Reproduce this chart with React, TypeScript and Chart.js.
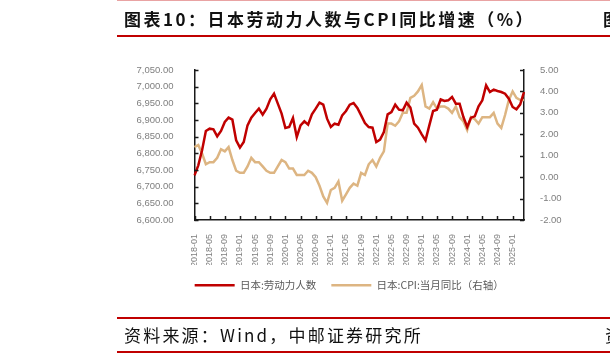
import React, { useEffect, useRef } from 'react';
import { Chart, registerables } from 'chart.js';

Chart.register(...registerables);

const months: string[] = [
  '2018-01','2018-02','2018-03','2018-04','2018-05','2018-06','2018-07','2018-08','2018-09','2018-10','2018-11','2018-12',
  '2019-01','2019-02','2019-03','2019-04','2019-05','2019-06','2019-07','2019-08','2019-09','2019-10','2019-11','2019-12',
  '2020-01','2020-02','2020-03','2020-04','2020-05','2020-06','2020-07','2020-08','2020-09','2020-10','2020-11','2020-12',
  '2021-01','2021-02','2021-03','2021-04','2021-05','2021-06','2021-07','2021-08','2021-09','2021-10','2021-11','2021-12',
  '2022-01','2022-02','2022-03','2022-04','2022-05','2022-06','2022-07','2022-08','2022-09','2022-10','2022-11','2022-12',
  '2023-01','2023-02','2023-03','2023-04','2023-05','2023-06','2023-07','2023-08','2023-09','2023-10','2023-11','2023-12',
  '2024-01','2024-02','2024-03','2024-04','2024-05','2024-06','2024-07','2024-08','2024-09','2024-10','2024-11','2024-12',
  '2025-01','2025-02','2025-03','2025-04',
];

// 日本:劳动力人数 (万人)
const laborForce: number[] = [
  6734, 6764, 6809, 6867, 6874, 6872, 6851, 6867, 6894, 6907, 6901, 6839,
  6817, 6834, 6884, 6907, 6921, 6934, 6916, 6934, 6962, 6979, 6949, 6919,
  6876, 6879, 6906, 6849, 6884, 6896, 6886, 6917, 6934, 6952, 6946, 6904,
  6879, 6889, 6886, 6914, 6927, 6946, 6951, 6936, 6914, 6891, 6879, 6877,
  6834, 6841, 6864, 6917, 6924, 6946, 6931, 6929, 6952, 6937, 6889, 6877,
  6857, 6839, 6884, 6927, 6931, 6962, 6957, 6959, 6969, 6949, 6949, 6909,
  6879, 6907, 6911, 6941, 6959, 7004, 6984, 6991, 6987, 6984, 6979, 6964,
  6939, 6932, 6947, 6984,
];

// 日本:CPI:当月同比 (%)
const cpiYoY: number[] = [
  1.4, 1.5, 1.1, 0.6, 0.7, 0.7, 0.9, 1.3, 1.2, 1.4, 0.8, 0.3,
  0.2, 0.2, 0.5, 0.9, 0.7, 0.7, 0.5, 0.3, 0.2, 0.2, 0.5, 0.8,
  0.7, 0.4, 0.4, 0.1, 0.1, 0.1, 0.3, 0.2, 0.0, -0.4, -0.9, -1.2,
  -0.6, -0.5, -0.2, -1.1, -0.8, -0.5, -0.3, -0.4, 0.2, 0.1, 0.6, 0.8,
  0.5, 0.9, 1.2, 2.5, 2.5, 2.4, 2.6, 3.0, 3.0, 3.7, 3.8, 4.0,
  4.3, 3.3, 3.2, 3.5, 3.2, 3.3, 3.3, 3.2, 3.0, 3.3, 2.8, 2.6,
  2.2, 2.8, 2.7, 2.5, 2.8, 2.8, 2.8, 3.0, 2.5, 2.3, 2.9, 3.6,
  4.0, 3.7, 3.6, 3.6,
];

const leftAxis = { min: 6600, max: 7050, step: 50 };
const rightAxis = { min: -2, max: 5, step: 1 };
const labelEvery = 4;

const seriesNames = ['日本:劳动力人数', '日本:CPI:当月同比（右轴）'];
const titleText = '图表10：日本劳动力人数与CPI同比增速（%）';
const sourceText = '资料来源：Wind，中邮证券研究所';

const RED = '#C00000';
const TAN = '#DDB582';
const TICK_COLOR = '#7F7F7F';

const inwardTicks = {
  id: 'inwardTicks',
  afterDraw(chart: any) {
    const ctx = chart.ctx;
    const { left, right, bottom } = chart.chartArea;
    ctx.save();
    ctx.strokeStyle = '#1a1a1a';
    ctx.lineWidth = 1.5;
    const y = chart.scales.y;
    y.ticks.forEach((_t: any, i: number) => {
      const py = Math.round(y.getPixelForTick(i)) + 0.5;
      ctx.beginPath();
      ctx.moveTo(left, py);
      ctx.lineTo(left + 4, py);
      ctx.stroke();
    });
    const y1 = chart.scales.y1;
    y1.ticks.forEach((_t: any, i: number) => {
      const py = Math.round(y1.getPixelForTick(i)) + 0.5;
      ctx.beginPath();
      ctx.moveTo(right - 4, py);
      ctx.lineTo(right, py);
      ctx.stroke();
    });
    const x = chart.scales.x;
    for (let i = 0; i < months.length; i += labelEvery) {
      const px = Math.round(x.getPixelForValue(i)) + 0.5;
      ctx.beginPath();
      ctx.moveTo(px, bottom);
      ctx.lineTo(px, bottom - 4);
      ctx.stroke();
    }
    ctx.restore();
  },
};

const fmtLeft = (v: number) =>
  v.toLocaleString('en-US', { minimumFractionDigits: 2, maximumFractionDigits: 2 });
const fmtRight = (v: number) => v.toFixed(2);

export default function App() {
  const canvasRef = useRef<HTMLCanvasElement | null>(null);

  useEffect(() => {
    if (!canvasRef.current) return;
    const chart = new Chart(canvasRef.current, {
      type: 'line',
      data: {
        labels: months,
        datasets: [
          {
            label: seriesNames[0],
            data: laborForce,
            borderColor: RED,
            backgroundColor: RED,
            borderWidth: 2.5,
            pointRadius: 0,
            tension: 0,
            yAxisID: 'y',
          },
          {
            label: seriesNames[1],
            data: cpiYoY,
            borderColor: TAN,
            backgroundColor: TAN,
            borderWidth: 2.5,
            pointRadius: 0,
            tension: 0,
            yAxisID: 'y1',
          },
        ],
      },
      options: {
        responsive: false,
        animation: false,
        layout: { padding: { left: 134.5, right: 46, top: 70, bottom: 56.5 } },
        plugins: {
          legend: {
            position: 'bottom',
            labels: {
              usePointStyle: true,
              pointStyle: 'line',
              pointStyleWidth: 40,
              padding: 15,
              color: '#595959',
              font: { family: '"Noto Sans CJK SC", sans-serif', size: 10.5 },
            },
          },
          tooltip: { enabled: false },
        },
        scales: {
          x: {
            type: 'category',
            offset: false,
            grid: { display: false },
            border: { display: true, color: '#1a1a1a', width: 1.5 },
            ticks: {
              autoSkip: false,
              maxRotation: 90,
              minRotation: 90,
              padding: 6,
              color: TICK_COLOR,
              font: { family: '"Liberation Sans", Arial, sans-serif', size: 9 },
              callback: (_v: any, i: number) => (i % labelEvery === 0 ? months[i] : ''),
            },
            afterFit: (s: any) => { s.height = 45; },
          },
          y: {
            position: 'left',
            min: leftAxis.min,
            max: leftAxis.max,
            grid: { display: false },
            border: { display: true, color: '#1a1a1a', width: 1.5 },
            ticks: {
              stepSize: leftAxis.step,
              padding: 13,
              color: TICK_COLOR,
              font: { family: '"Liberation Sans", Arial, sans-serif', size: 9.5 },
              callback: (v: any) => fmtLeft(Number(v)),
            },
            afterFit: (s: any) => { s.width = 60; },
          },
          y1: {
            position: 'right',
            min: rightAxis.min,
            max: rightAxis.max,
            grid: { display: false },
            border: { display: true, color: '#1a1a1a', width: 1.5 },
            ticks: {
              stepSize: rightAxis.step,
              padding: 8,
              color: TICK_COLOR,
              font: { family: '"Liberation Sans", Arial, sans-serif', size: 9.5 },
              callback: (v: any) => fmtRight(Number(v)),
            },
            afterFit: (s: any) => { s.width = 40; },
          },
        },
      },
      plugins: [inwardTicks],
    });
    return () => chart.destroy();
  }, []);

  const cjk = '"Noto Sans CJK SC", "Noto Sans", sans-serif';

  return (
    <div style={{ position: 'fixed', left: 0, top: 0, width: 610, height: 357, overflow: 'hidden', background: '#fff' }}>
      <canvas ref={canvasRef} width={610} height={357} style={{ position: 'absolute', left: 0, top: 0, width: 610, height: 357 }} />
      <div style={{ position: 'absolute', left: 117, top: 0, width: 493, height: 1, background: '#E9A3A3' }} />
      <div style={{ position: 'absolute', left: 117, top: 35, width: 493, height: 2, background: RED }} />
      <div style={{ position: 'absolute', left: 124, top: 7, fontFamily: cjk, fontWeight: 700, fontSize: 17, lineHeight: '24px', letterSpacing: '2.5px', color: '#111', whiteSpace: 'nowrap' }}>
        {titleText}
      </div>
      <div style={{ position: 'absolute', left: 603, top: 7, fontFamily: cjk, fontWeight: 700, fontSize: 17, lineHeight: '24px', color: '#111', whiteSpace: 'nowrap' }}>
        图表11
      </div>
      <div style={{ position: 'absolute', left: 117, top: 317, width: 493, height: 2, background: RED }} />
      <div style={{ position: 'absolute', left: 117, top: 351, width: 493, height: 2, background: RED }} />
      <div style={{ position: 'absolute', left: 124, top: 323, fontFamily: cjk, fontWeight: 400, fontSize: 17, lineHeight: '24px', letterSpacing: '2.2px', color: '#111', whiteSpace: 'nowrap' }}>
        {sourceText}
      </div>
      <div style={{ position: 'absolute', left: 605, top: 323, fontFamily: cjk, fontWeight: 400, fontSize: 17, lineHeight: '24px', color: '#111', whiteSpace: 'nowrap' }}>
        资料来源
      </div>
    </div>
  );
}
